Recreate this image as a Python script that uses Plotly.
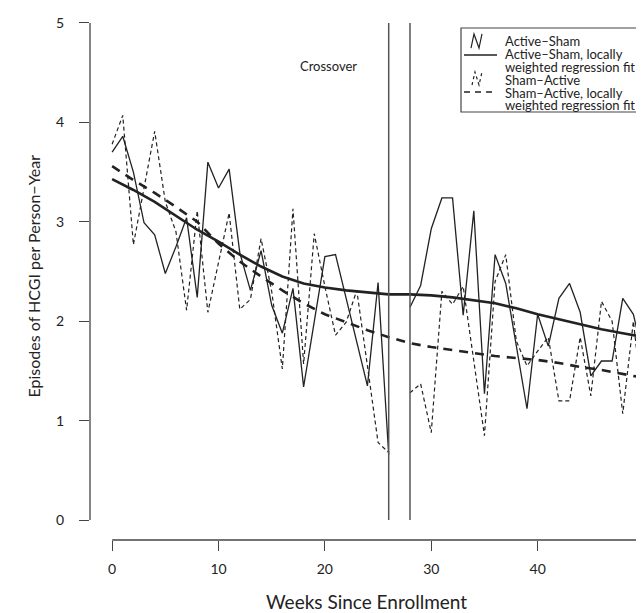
import plotly.graph_objects as go

# weeks since enrollment (week 27 = crossover gap)
weeks = list(range(0, 52))

active_sham = [3.70, 3.86, 3.50, 2.99, 2.87, 2.48, 2.75, 3.04, 2.24, 3.60,
               3.34, 3.53, 2.69, 2.31, 2.71, 2.16, 1.88, 2.33, 1.34, 2.00,
               2.65, 2.67, 2.23, 1.79, 1.35, 2.39, 0.66, None, 2.14, 2.36,
               2.93, 3.24, 3.24, 2.06, 3.11, 1.27, 2.67, 2.38, 1.75, 1.12,
               2.07, 1.75, 2.23, 2.38, 2.09, 1.45, 1.60, 1.60, 2.23, 2.07,
               1.61, 2.25]

sham_active = [3.78, 4.07, 2.77, 3.35, 3.91, 3.20, 2.90, 2.11, 3.11, 2.09,
               2.60, 3.09, 2.12, 2.22, 2.83, 2.30, 1.52, 3.13, 1.57, 2.88,
               2.35, 1.86, 1.99, 2.31, 1.55, 0.78, 0.68, None, 1.28, 1.37,
               0.88, 2.30, 2.17, 2.35, 1.60, 0.85, 2.40, 2.67, 1.80, 1.55,
               1.70, 1.84, 1.20, 1.20, 1.84, 1.25, 2.20, 2.00, 1.07, 2.00,
               1.05, 0.75]

# lowess fits, read every second week
fit_weeks = list(range(0, 52, 2)) + [51]
fit_active_sham = [3.43, 3.32, 3.20, 3.06, 2.92, 2.80, 2.67, 2.55, 2.45, 2.38,
                   2.34, 2.31, 2.29, 2.27, 2.27, 2.26, 2.24, 2.21, 2.18, 2.13,
                   2.07, 2.02, 1.97, 1.92, 1.88, 1.84, 1.82]
fit_sham_active = [3.56, 3.42, 3.29, 3.15, 3.00, 2.78, 2.60, 2.45, 2.31, 2.18,
                   2.07, 1.99, 1.91, 1.84, 1.78, 1.74, 1.71, 1.68, 1.65, 1.63,
                   1.61, 1.58, 1.54, 1.51, 1.47, 1.43, 1.42]

crossover_weeks = [26, 28]
x_ticks = [0, 10, 20, 30, 40, 50]
y_ticks = [0, 1, 2, 3, 4, 5]

W, H = 644, 613
ML, MR, MT, MB = 82, 0, 0, 81
PW, PH = W - ML - MR, H - MT - MB
FONT = "Lato"
INK = "#222222"
AX = "#444444"


def px(x):
    return (x - ML) / PW


def py(y):
    return (PH + MT - y) / PH


fig = go.Figure()

fig.add_trace(go.Scatter(x=weeks, y=active_sham, mode="lines",
                         line=dict(color=INK, width=1.3), connectgaps=False))
fig.add_trace(go.Scatter(x=weeks, y=sham_active, mode="lines",
                         line=dict(color=INK, width=1.2, dash="4px,3px"), connectgaps=False))
fig.add_trace(go.Scatter(x=fit_weeks, y=fit_active_sham, mode="lines",
                         line=dict(color=INK, width=2.6)))
fig.add_trace(go.Scatter(x=fit_weeks, y=fit_sham_active, mode="lines",
                         line=dict(color=INK, width=2.6, dash="9px,7px")))

shapes = []
for w in crossover_weeks:
    shapes.append(dict(type="line", xref="x", yref="y", x0=w, x1=w, y0=0, y1=5,
                       line=dict(color="#555555", width=1.5)))

# R-style axis lines
shapes.append(dict(type="line", xref="paper", yref="y", x0=0, x1=0, y0=0, y1=5,
                   line=dict(color=AX, width=1.3)))
shapes.append(dict(type="line", xref="x", yref="paper", x0=0, x1=50, y0=0, y1=0,
                   line=dict(color=AX, width=1.3)))

# legend box
shapes.append(dict(type="rect", xref="paper", yref="paper",
                   x0=px(453), x1=px(642), y0=py(20), y1=py(104),
                   line=dict(color=AX, width=1.2), fillcolor="white"))


def path(pts):
    return "M " + " L ".join(f"{px(a):.5f},{py(b):.5f}" for a, b in pts)


shapes.append(dict(type="path", xref="paper", yref="paper",
                   path=path([(463, 40), (466, 26), (471, 40), (474, 26)]),
                   line=dict(color=INK, width=1.2)))
shapes.append(dict(type="line", xref="paper", yref="paper",
                   x0=px(456), x1=px(489), y0=py(47), y1=py(47),
                   line=dict(color=INK, width=1.5)))
shapes.append(dict(type="path", xref="paper", yref="paper",
                   path=path([(464, 77), (467, 64), (471, 77), (474, 64)]),
                   line=dict(color=INK, width=1.2, dash="3px,3px")))
shapes.append(dict(type="line", xref="paper", yref="paper",
                   x0=px(456), x1=px(489), y0=py(84), y1=py(84),
                   line=dict(color=INK, width=1.5, dash="6px,5px")))

legend_lines = [("Active\u2013Sham", 33), ("Active\u2013Sham, locally", 46),
                ("weighted regression fit", 59), ("Sham\u2013Active", 72),
                ("Sham\u2013Active, locally", 85), ("weighted regression fit", 97)]
annotations = []
for txt, yy in legend_lines:
    annotations.append(dict(text=txt, xref="paper", yref="paper", x=px(495), y=py(yy),
                            xanchor="left", yanchor="middle", showarrow=False,
                            font=dict(family=FONT, size=13, color=INK)))

annotations.append(dict(text="Crossover", xref="x", yref="y", x=20.3, y=4.57,
                        showarrow=False, font=dict(family=FONT, size=13, color=INK)))
annotations.append(dict(text="Weeks Since Enrollment", xref="paper", yref="paper",
                        x=px(358), y=py(607), xanchor="center", yanchor="bottom",
                        showarrow=False, font=dict(family=FONT, size=19, color=INK)))
annotations.append(dict(text="Episodes of HCGI per Person\u2212Year", xref="paper", yref="y",
                        x=px(25), y=2.45, xanchor="center", yanchor="middle",
                        textangle=-90, showarrow=False,
                        font=dict(family=FONT, size=16, color=INK)))

fig.update_layout(
    width=W, height=H,
    margin=dict(l=ML, r=MR, t=MT, b=MB),
    paper_bgcolor="white", plot_bgcolor="white",
    showlegend=False,
    shapes=shapes, annotations=annotations,
    font=dict(family=FONT, size=14, color=INK),
)
fig.update_xaxes(range=[-2.08, 50.75], tickvals=x_ticks, ticks="outside", ticklen=10,
                 tickwidth=1.3, tickcolor=AX, showgrid=False, zeroline=False,
                 showline=False, ticklabelstandoff=6, ticklabeloverflow="allow",
                 tickfont=dict(size=14))
fig.update_yaxes(range=[-0.2, 5.15], tickvals=y_ticks, ticks="outside", ticklen=10,
                 tickwidth=1.3, tickcolor=AX, showgrid=False, zeroline=False,
                 showline=False, ticklabelstandoff=12, tickfont=dict(size=14))

fig.write_html("out.html")
